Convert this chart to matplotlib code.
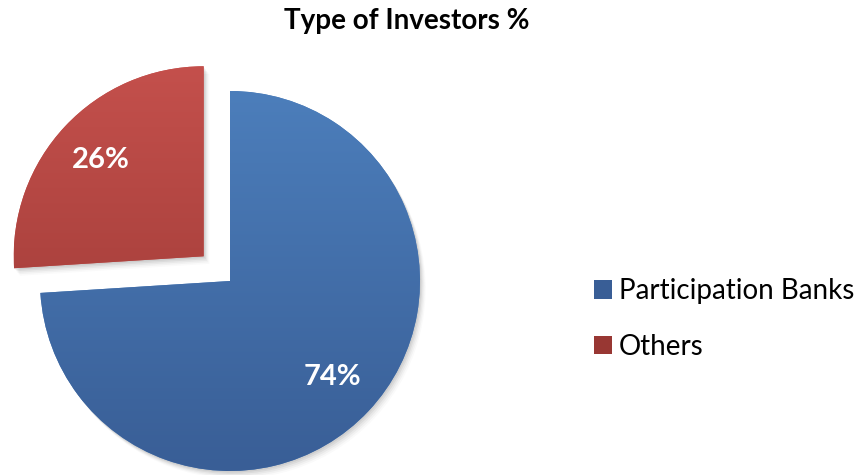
import numpy as np
import matplotlib
matplotlib.use('Agg')
import matplotlib.pyplot as plt
from matplotlib.colors import LinearSegmentedColormap
from matplotlib.patches import Wedge

# ---------------------------------------------------------------------------
# Data
# ---------------------------------------------------------------------------
labels = ['Participation Banks', 'Others']
shares = [74, 26]
explode = [0.0, 0.19]

# top / bottom colour of the vertical gradient for each slice
top_colors = ['#4C7EBB', '#C4504C']
bottom_colors = ['#395E96', '#983733']

FONT = ['Lato', 'DejaVu Sans']

W, H = 861, 475
R_PX = 190.0                  # pie radius in pixels
CX, CY = 230.0, H - 281.0     # pie centre in pixels (from bottom-left)

fig = plt.figure(figsize=(W / 100, H / 100), dpi=100)
ax = fig.add_axes([0, 0, 1, 1])

wedges, texts, autotexts = ax.pie(
    shares, explode=explode, startangle=90, counterclock=False,
    colors=top_colors, radius=1.0, pctdistance=0.74,
    autopct=lambda p: f'{p:.0f}%',
    wedgeprops=dict(linewidth=0),
    textprops=dict(color='white', fontsize=21, fontweight='bold', family=FONT),
)

# soft drop shadow below the slices
for w in wedges:
    for k, a in zip(range(1, 6), [0.06, 0.05, 0.04, 0.03, 0.02]):
        sh = Wedge((w.center[0] + 0.006 * k, w.center[1] - 0.008 * k), w.r,
                   w.theta1, w.theta2, facecolor='black', alpha=a,
                   linewidth=0, zorder=0.5)
        ax.add_patch(sh)

# vertical gradient fill clipped to each slice
for w, c0, c1 in zip(wedges, top_colors, bottom_colors):
    cmap = LinearSegmentedColormap.from_list('g', [c1, c0])
    cy = w.center[1]
    grad = np.linspace(0, 1, 256).reshape(-1, 1)
    im = ax.imshow(grad, cmap=cmap, origin='lower', aspect='auto',
                   extent=[w.center[0] - 1, w.center[0] + 1, cy - 1, cy + 1],
                   zorder=w.get_zorder() + 0.1)
    im.set_clip_path(w)
for t in autotexts:
    t.set_zorder(5)

ax.set_xlim(-CX / R_PX, (W - CX) / R_PX)
ax.set_ylim(-CY / R_PX, (H - CY) / R_PX)
ax.set_aspect('equal')
ax.axis('off')

fig.text(407 / W, 1 - 21 / H, 'Type of Investors %', ha='center', va='center',
         fontsize=20, fontweight='bold', family=FONT)

leg = ax.legend(wedges, labels, loc='upper left',
                bbox_to_anchor=(594 / W, 1 - 278 / H),
                bbox_transform=fig.transFigure, frameon=False,
                prop=dict(family=FONT, size=20),
                handlelength=0.65, handleheight=0.65, handletextpad=0.25,
                labelspacing=1.07, borderaxespad=0, borderpad=0)
for h, c in zip(leg.legend_handles, bottom_colors):
    h.set_facecolor(c)

fig.savefig('out.png', dpi=100)
